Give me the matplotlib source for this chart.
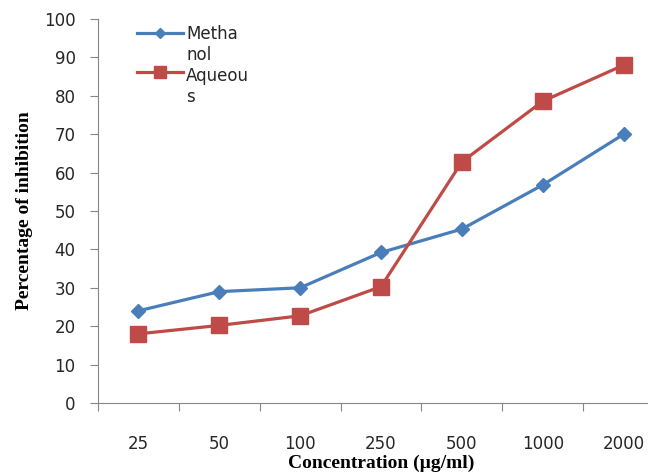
import matplotlib
matplotlib.use("Agg")
import matplotlib.pyplot as plt
from matplotlib.lines import Line2D
import numpy as np

concentrations = ["25", "50", "100", "250", "500", "1000", "2000"]
methanol = [24.0, 29.0, 30.0, 39.2, 45.3, 56.8, 70.0]
aqueous = [18.0, 20.2, 22.7, 30.3, 62.8, 78.6, 88.0]
y_ticks = [0, 10, 20, 30, 40, 50, 60, 70, 80, 90, 100]
series_names = ["Metha\nnol", "Aqueou\ns"]

blue = "#4A7EBB"
red = "#BE4B48"
axis_gray = "#868686"
text_dark = "#262626"

fig = plt.figure(figsize=(6.48, 4.76), dpi=100)
ax = fig.add_axes([0.151, 0.1534, 0.874, 0.8067])

x = np.arange(len(concentrations))
ax.plot(x, methanol, color=blue, lw=2.3, marker="D", ms=7.2,
        mfc=blue, mec=blue, clip_on=False)
ax.plot(x, aqueous, color=red, lw=2.3, marker="s", ms=11,
        mfc=red, mec=red, clip_on=False)

ax.set_xlim(-0.5, len(concentrations) - 0.5)
ax.set_ylim(0, 100)

# category boundaries carry the tick marks, labels sit at the centres
ax.set_xticks(np.arange(len(concentrations) + 1) - 0.5)
ax.set_xticklabels([])
ax.set_xticks(x, minor=True)
ax.set_xticklabels(concentrations, minor=True)
ax.tick_params(axis="x", which="major", direction="out", length=6,
               color=axis_gray, width=0.8)
ax.tick_params(axis="x", which="minor", length=0, pad=23,
               labelsize=12, labelcolor=text_dark)
ax.set_yticks(y_ticks)
ax.tick_params(axis="y", direction="out", length=6, color=axis_gray,
               width=0.8, labelsize=12, labelcolor=text_dark, pad=10)
for lab in ax.get_xticklabels(minor=True) + ax.get_yticklabels():
    lab.set_family("DejaVu Sans")

for side in ("top", "right"):
    ax.spines[side].set_visible(False)
for side in ("left", "bottom"):
    ax.spines[side].set_color(axis_gray)
    ax.spines[side].set_linewidth(0.8)

ax.set_xlabel("Concentration (µg/ml)", family="Liberation Serif",
              fontweight="bold", fontsize=14, labelpad=1.5)
ax.set_ylabel("Percentage of inhibition", family="Liberation Serif",
              fontweight="bold", fontsize=14, labelpad=8)

# legend: short line with marker, wrapped series name to its right
# (text y is the baseline of the name's last line)
legend_rows = [(0.964, 0.893, blue, "D", 5.2, series_names[0]),
               (0.862, 0.784, red, "s", 8.5, series_names[1])]
for y_line, y_text, col, mk, size, name in legend_rows:
    ax.add_line(Line2D([0.069, 0.150], [y_line, y_line], transform=ax.transAxes,
                       color=col, lw=2.3, clip_on=False))
    ax.add_line(Line2D([0.110], [y_line], transform=ax.transAxes, color=col,
                       marker=mk, ms=size, mfc=col, mec=col, clip_on=False))
    ax.text(0.156, y_text, name, transform=ax.transAxes, family="DejaVu Sans",
            fontsize=12, color=text_dark, va="baseline", ha="left",
            linespacing=1.2)

fig.savefig("out.png", dpi=100)
